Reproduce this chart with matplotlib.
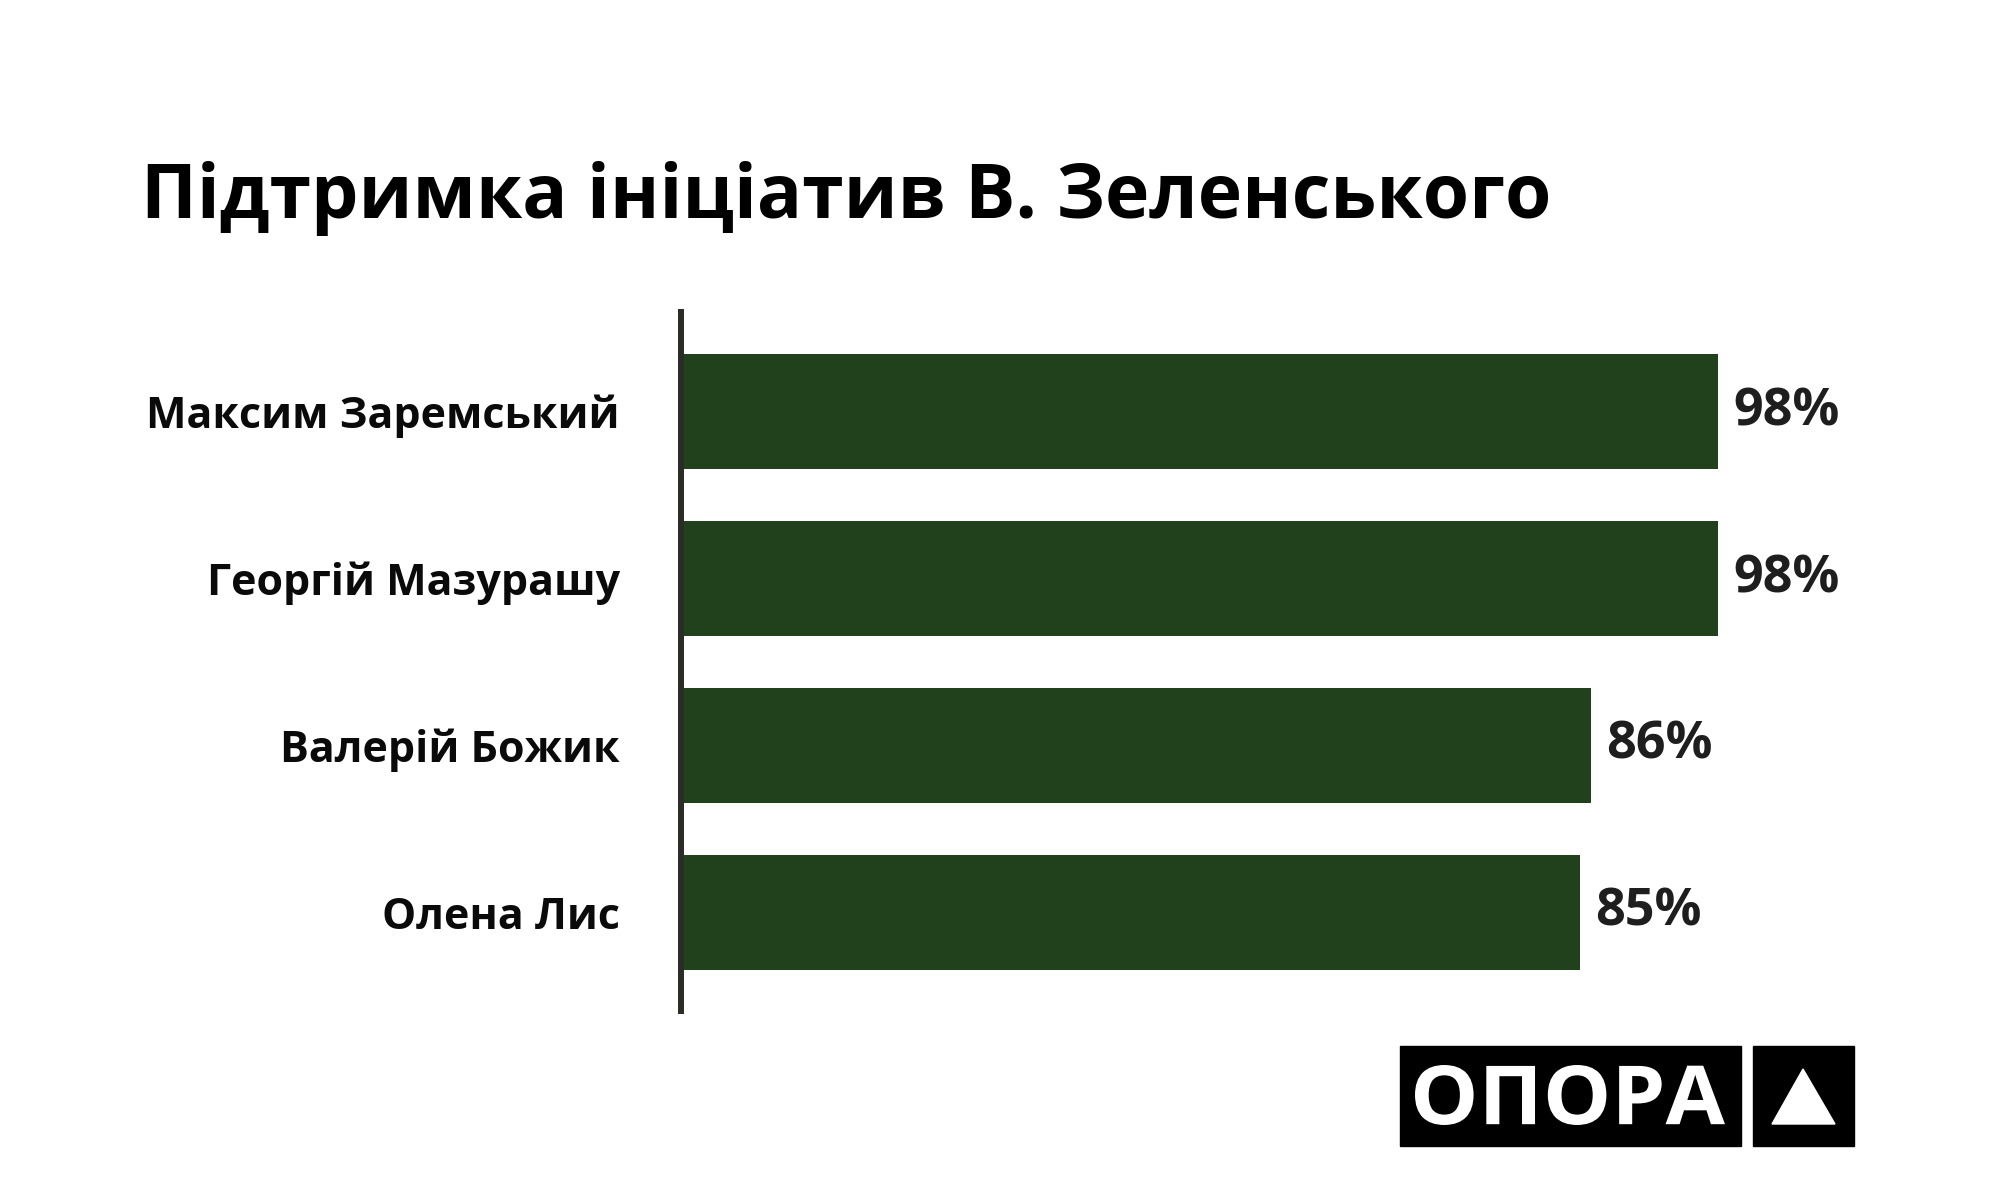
import matplotlib.pyplot as plt
from matplotlib.patches import Rectangle, Polygon, PathPatch
from matplotlib.textpath import TextPath
from matplotlib.font_manager import FontProperties
from matplotlib.transforms import Affine2D

# data
names = ["Максим Заремський", "Георгій Мазурашу", "Валерій Божик", "Олена Лис"]
values = [98, 98, 86, 85]
title = "Підтримка ініціатив В. Зеленського"

bar_color = "#21401c"
W, H = 2000, 1200

plt.rcParams['font.family'] = ['Open Sans', 'DejaVu Sans']
fig = plt.figure(figsize=(20, 12), dpi=100)
fig.patch.set_facecolor("white")

# main axes, placed in pixels
ax = fig.add_axes([681 / W, 1 - 1011 / H, 1058 / W, 699 / H])
y = list(range(len(names)))
ax.barh(y, values, height=0.69, color=bar_color, zorder=1)
ax.set_xlim(0, 100)
ax.set_ylim(3.59, -0.596)
for s in ["top", "right", "bottom"]:
    ax.spines[s].set_visible(False)
ax.spines["left"].set_linewidth(4.3)
ax.spines["left"].set_color("#2b2b28")
ax.spines["left"].set_zorder(3)
ax.set_xticks([])
ax.set_yticks(y)
ax.set_yticklabels(names, fontsize=31, fontweight="bold", color="#0a0a0a")
ax.tick_params(axis="y", length=0, pad=44)
for yi, v in zip(y, values):
    ax.annotate(f"{v}%", (v, yi), xytext=(11, 0), textcoords="offset points",
                va="center", ha="left", fontsize=37.5, fontweight="bold",
                color="#1e1e1e")

fig.text(141 / W, 1 - 218 / H, title, fontsize=54, fontweight="bold",
         color="#000000", ha="left", va="baseline")

# logo
lax = fig.add_axes([0, 0, 1, 1], zorder=5)
lax.set_xlim(0, W)
lax.set_ylim(H, 0)
lax.axis("off")
lax.add_patch(Rectangle((1400, 1046), 341, 100, color="black"))
lax.add_patch(Rectangle((1753, 1046), 101, 100, color="black"))
lax.add_patch(Polygon([(1803, 1069), (1772, 1124), (1835, 1124)], color="white"))
fp = FontProperties(family="Open Sans", weight="bold")
tp = TextPath((0, 0), "ОПОРА", size=100, prop=fp)
ext = tp.get_extents()
sx = 310 / ext.width
sy = 60 / ext.height
tr = Affine2D().translate(-ext.x0, -ext.y0).scale(sx, -sy).translate(1415, 1125)
lax.add_patch(PathPatch(tr.transform_path(tp), color="white", lw=0))

fig.savefig("out.png", dpi=100, facecolor="white")
